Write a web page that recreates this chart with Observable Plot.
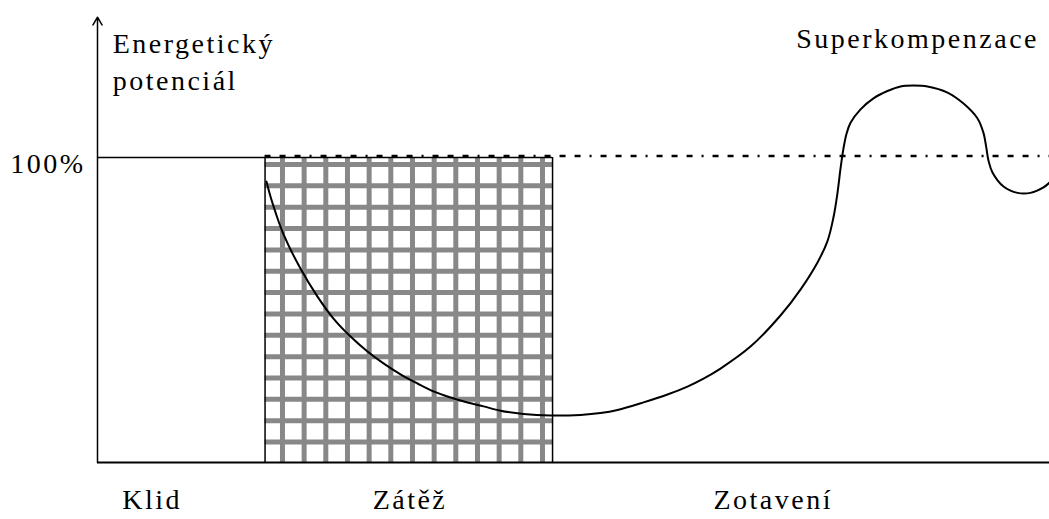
<!DOCTYPE html>
<html>
<head>
<meta charset="utf-8">
<script src="https://cdn.jsdelivr.net/npm/d3@7"></script>
<script src="https://cdn.jsdelivr.net/npm/@observablehq/plot@0.6"></script>
<style>
  html, body { margin: 0; padding: 0; background: white; }
</style>
</head>
<body>
<div id="chart"></div>
<script>
// Time (0–100) and energy potential (% of resting level)
const curveT = [17.75, 18.17, 18.7, 19.54, 21.32, 23.11, 24.79, 26.58, 28.36, 30.04, 31.83, 33.61, 35.29, 37.08, 38.87, 40.55, 42.33, 44.75, 47.58, 50.74, 52.84, 54.62, 57.35, 59.87, 61.97, 63.66, 65.44, 68.59, 71.74, 73.84, 75.63, 76.68, 77.31, 77.73, 78.05, 78.36, 78.68, 79.1, 80.15, 81.51, 82.98, 84.35, 85.71, 87.18, 89.29, 90.97, 92.44, 93.07, 93.38, 93.59, 94.01, 95.17, 96.64, 98.0, 99.37, 100.0];
const curveE = [92.1, 87.2, 82.0, 74.8, 63.6, 54.4, 47.2, 41.3, 36.4, 32.5, 28.9, 25.9, 23.3, 21.3, 19.7, 18.4, 17.0, 15.9, 15.4, 15.6, 16.2, 17.2, 19.7, 22.3, 24.9, 27.5, 30.8, 38.0, 48.2, 56.7, 65.6, 72.6, 80.4, 88.4, 96.4, 103.0, 107.8, 111.4, 115.8, 119.4, 121.8, 123.3, 123.6, 123.3, 121.3, 117.7, 112.8, 108.0, 102.9, 99.0, 95.1, 90.5, 88.4, 88.4, 90.2, 91.8];

// Phase boundaries (time units)
const phaseStart = [0, 17.6, 47.8];
const phaseEnd = [17.6, 47.8, 100];
const phaseNames = ["Klid", "Zátěž", "Zotavení"];
const phaseLabelX = [2.6, 28.9, 64.7];

const baseLevel = 100;
const yTicks = [100];
const yTitleLines = ["Energetický", "potenciál"];
const yTitleY = [134.1, 122.2];
const peakLabel = "Superkompenzace";

const curve = curveT.map((t, i) => ({t, e: curveE[i]}));
const phases = phaseNames.map((name, i) => ({name, x1: phaseStart[i], x2: phaseEnd[i], lx: phaseLabelX[i]}));
const load = phases[1];

// hatch texture inside the load box
const hatchX = d3.range(load.x1 + 1.83, load.x2 - 0.3, 2.276);
const hatchY = d3.range(97.7, 0, -7);

const font = "Liberation Serif, Times New Roman, serif";

const plot = Plot.plot({
  width: 1049,
  height: 519,
  marginLeft: 97,
  marginRight: 0,
  marginTop: 4.5,
  marginBottom: 57,
  x: {domain: [0, 100], axis: null},
  y: {domain: [0, 150], label: null},
  style: {fontFamily: font, fontSize: "28px", letterSpacing: "2.5px", background: "white", overflow: "visible"},
  marks: [
    // load box hatch
    Plot.ruleX(hatchX, {x: d => d, y1: 0, y2: baseLevel, stroke: "#888888", strokeWidth: 5}),
    Plot.ruleY(hatchY, {y: d => d, x1: load.x1, x2: load.x2, stroke: "#888888", strokeWidth: 5}),
    Plot.ruleX([load.x1, load.x2], {x: d => d, y1: 0, y2: baseLevel, stroke: "black", strokeWidth: 1.5}),
    // 100 % level
    Plot.ruleY([baseLevel], {x1: 0, x2: load.x2, stroke: "black", strokeWidth: 1.5}),
    Plot.ruleY([baseLevel], {x1: load.x1, x2: 100, dy: -1.5, stroke: "black", strokeWidth: 2.5, strokeDasharray: "6,9,6,9,6,9,2,9"}),
    // axes
    Plot.ruleY([0], {x1: 0, x2: 100, stroke: "black", strokeWidth: 2}),
    Plot.arrow([0], {x1: 0, x2: 0, y1: 0, y2: 146, headLength: 9, strokeWidth: 1.5, stroke: "black"}),
    Plot.axisY({ticks: yTicks, tickSize: 0, tickPadding: 12, tickFormat: d => d + "%", label: null, fontSize: 28, dy: 7, fill: "black"}),
    // curve
    Plot.line(curve, {x: "t", y: "e", curve: "catmull-rom", stroke: "black", strokeWidth: 2}),
    // labels
    Plot.text(yTitleLines, {x: 1.6, y: (d, i) => yTitleY[i], text: d => d, textAnchor: "start", lineAnchor: "bottom", fontSize: 28, fill: "black"}),
    Plot.text([peakLabel], {x: 73.4, y: 136, text: d => d, textAnchor: "start", lineAnchor: "bottom", fontSize: 28, fill: "black"}),
    Plot.text(phases, {x: "lx", y: -15.4, text: "name", textAnchor: "start", lineAnchor: "bottom", fontSize: 28, fill: "black"})
  ]
});
document.getElementById("chart").appendChild(plot);
</script>
</body>
</html>
